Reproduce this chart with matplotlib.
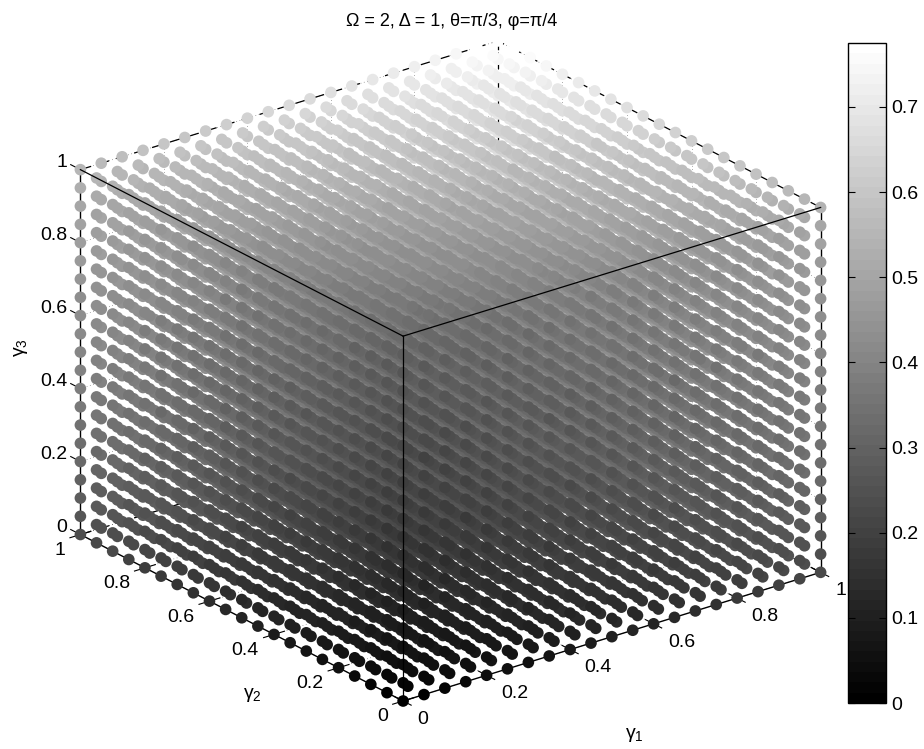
import numpy as np
from matplotlib import pyplot as plt
from mpl_toolkits.mplot3d import proj3d

plt.rcParams['font.family'] = ['Liberation Sans', 'DejaVu Sans']
plt.rcParams['mathtext.fontset'] = 'custom'
plt.rcParams['mathtext.rm'] = 'Liberation Sans'
plt.rcParams['mathtext.it'] = 'Liberation Sans'

# grid of the cube, 21 steps per axis
gamma = [0, 0.05, 0.1, 0.15, 0.2, 0.25, 0.3, 0.35, 0.4, 0.45, 0.5,
         0.55, 0.6, 0.65, 0.7, 0.75, 0.8, 0.85, 0.9, 0.95, 1]

shade_g1 = [0, 0.01, 0.02, 0.03, 0.04, 0.05, 0.06, 0.07, 0.08, 0.09, 0.10,
            0.11, 0.12, 0.13, 0.145, 0.155, 0.17, 0.18, 0.195, 0.21, 0.22]
shade_g2 = [0, 0.012, 0.024, 0.036, 0.05, 0.06, 0.07, 0.08, 0.09, 0.10, 0.11,
            0.125, 0.14, 0.15, 0.165, 0.175, 0.19, 0.205, 0.22, 0.23, 0.24]
shade_g3 = [0, 0.02, 0.04, 0.06, 0.08, 0.095, 0.11, 0.125, 0.14, 0.15, 0.165,
            0.175, 0.185, 0.195, 0.21, 0.225, 0.24, 0.25, 0.265, 0.285, 0.315]

axis_ticks = [0, 0.2, 0.4, 0.6, 0.8, 1]
axis_labels = ['0', '0.2', '0.4', '0.6', '0.8', '1']
cbar_ticks = [0, 0.1, 0.2, 0.3, 0.4, 0.5, 0.6, 0.7]
cbar_labels = ['0', '0.1', '0.2', '0.3', '0.4', '0.5', '0.6', '0.7']
cbar_max = 0.775

W, H = 924, 749
fig = plt.figure(figsize=(W / 100, H / 100), dpi=100)

# orthographic box, same view as the matlab one. the axes stays inside the figure, zoom makes up the size
L = 730
ax = fig.add_axes([(450.5 - 0.5135 * L) / W, (378 - 0.5135 * L) / H, L / W, L / H],
                  projection='3d', proj_type='ortho')
ax.computed_zorder = False
ax.view_init(elev=23.5, azim=-127.7)
ax.set_box_aspect((1, 1, 0.754), zoom=821 / L)
ax.set_xlim(0, 1, view_margin=0)
ax.set_ylim(0, 1, view_margin=0)
ax.set_zlim(0, 1, view_margin=0)
ax.set_xticks([])
ax.set_yticks([])
ax.set_zticks([])
ax.set_axis_off()

g1, g2, g3 = np.meshgrid(gamma, gamma, gamma, indexing='ij')
s1, s2, s3 = np.meshgrid(shade_g1, shade_g2, shade_g3, indexing='ij')
values = s1 + s2 + s3

sc = ax.scatter(g1.ravel(), g2.ravel(), g3.ravel(), c=values.ravel(), s=70, linewidths=0,
                cmap=plt.get_cmap('gray', 64), vmin=0, vmax=cbar_max, depthshade=False,
                zorder=3, clip_on=False)


def edge(xs, ys, zs, lw=0.9, ls='-', zorder=2):
    ax.plot(xs, ys, zs, color='k', lw=lw, ls=ls, zorder=zorder, clip_on=False)


def tick_text(x, y, z, s, ha):
    # projected by hand so the text keeps its real place on the figure
    px, py, _ = proj3d.proj_transform(x, y, z, ax.get_proj())
    ax.text2D(px, py, s, transform=ax.transData, fontsize=14, ha=ha, va='center')


# dotted grid on the back walls
dots = (0, (1, 5))
for t in axis_ticks:
    edge([t, t], [1, 1], [0, 1], 0.4, dots, 1)
    edge([1, 1], [t, t], [0, 1], 0.4, dots, 1)
    edge([t, t], [0, 1], [0, 0], 0.4, dots, 1)
    edge([0, 1], [t, t], [0, 0], 0.4, dots, 1)
    edge([0, 1], [1, 1], [t, t], 0.4, dots, 1)
    edge([1, 1], [0, 1], [t, t], 0.4, dots, 1)

# back edges are dashed
dash = (0, (9, 6))
edge([0, 1], [1, 1], [1, 1], ls=dash)
edge([1, 1], [0, 1], [1, 1], ls=dash)
edge([1, 1], [1, 1], [0, 1], ls=dash)
edge([0, 1], [1, 1], [0, 0], ls=dash)
edge([1, 1], [0, 1], [0, 0], ls=dash)

# axes lines, under the dots
edge([0, 1], [0, 0], [0, 0], 1)
edge([0, 0], [0, 1], [0, 0], 1)
edge([0, 0], [1, 1], [0, 1], 1)
edge([1, 1], [0, 0], [0, 1], 1)

# front edges, over the dots
edge([0, 0], [0, 0], [0, 1], zorder=4)
edge([0, 1], [0, 0], [1, 1], zorder=4)
edge([0, 0], [0, 1], [1, 1], zorder=4)

for t, lab in zip(axis_ticks, axis_labels):
    edge([t, t], [-0.025, 0.025], [0, 0], 0.8)
    edge([-0.025, 0.025], [t, t], [0, 0], 0.8)
    edge([0, 0], [1, 1.03], [t, t], 0.8)
    tick_text(t, -0.045, -0.03, lab, 'left')
    tick_text(-0.036, t, -0.031, lab, 'right')
    tick_text(0, 1.04, t, lab, 'right')

fig.text(451.5 / W, 1 - 21 / H, 'Ω = 2, Δ = 1, θ=π/3, φ=π/4', fontsize=13, ha='center', va='center')
fig.text(634 / W, 1 - 735 / H, r'$\gamma_1$', fontsize=14, ha='center', va='center')
fig.text(252 / W, 1 - 695 / H, r'$\gamma_2$', fontsize=14, ha='center', va='center')
fig.text(21 / W, 1 - 348 / H, r'$\gamma_3$', fontsize=14, ha='center', va='center', rotation=90)

cax = fig.add_axes([848 / W, 1 - 703 / H, 38 / W, 660 / H])
cb = fig.colorbar(sc, cax=cax)
cb.set_ticks(cbar_ticks)
cb.set_ticklabels(cbar_labels)
cb.ax.tick_params(direction='in', left=True, right=True, length=5, width=0.8, pad=4, labelsize=14)
cb.outline.set_linewidth(1)

plt.savefig('out.png', dpi=100)
